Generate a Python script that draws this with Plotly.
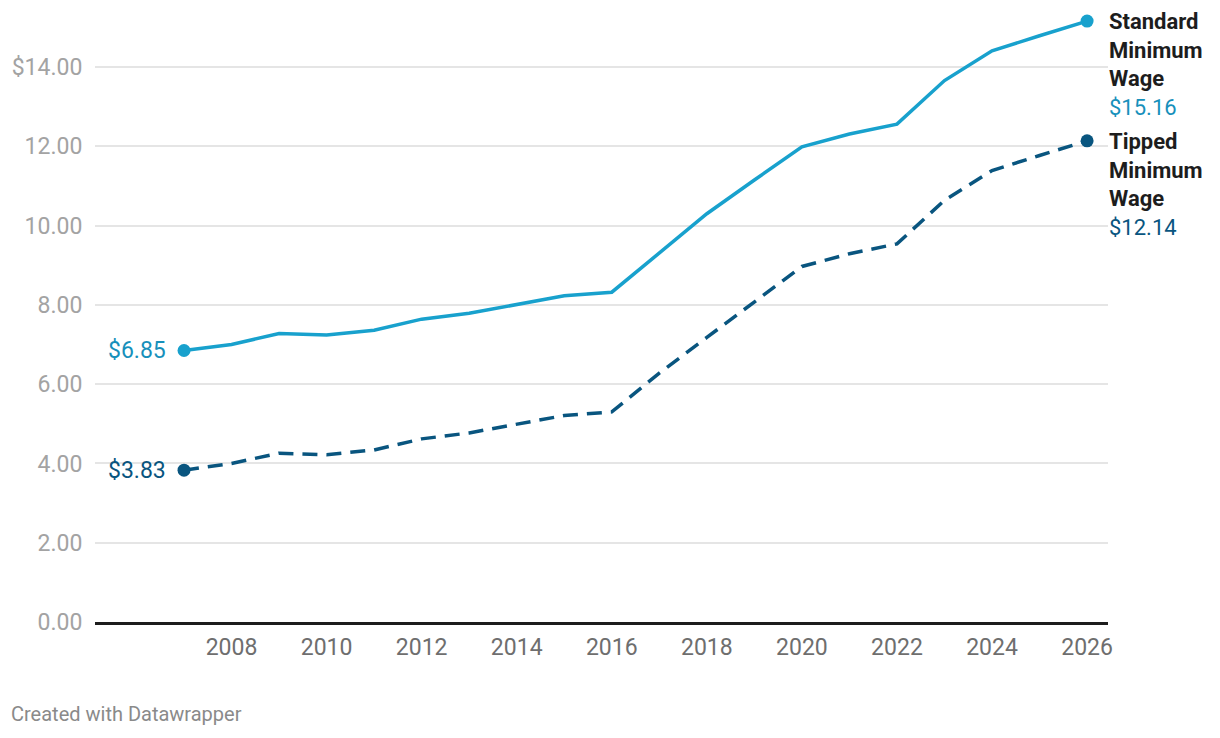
import plotly.graph_objects as go

years = list(range(2007, 2027))
standard = [6.85, 7.00, 7.28, 7.24, 7.36, 7.64, 7.79, 8.01, 8.23, 8.32,
            9.32, 10.30, 11.15, 11.99, 12.31, 12.56, 13.66, 14.41, 14.79, 15.16]
tipped = [3.83, 4.00, 4.26, 4.22, 4.34, 4.62, 4.77, 4.99, 5.21, 5.30,
          6.28, 7.18, 8.08, 8.97, 9.29, 9.54, 10.64, 11.39, 11.77, 12.14]

series_names = ["Standard<br>Minimum<br>Wage", "Tipped<br>Minimum<br>Wage"]
line_colors = ["#18a1cd", "#09557f"]
value_colors = ["#1790bb", "#09557f"]

y_tickvals = [0, 2, 4, 6, 8, 10, 12, 14]
y_ticktext = ["0.00", "2.00", "4.00", "6.00", "8.00", "10.00", "12.00", "$14.00"]
x_tickvals = list(range(2008, 2027, 2))

FONT = "Roboto"

fig = go.Figure()

for vals, col, dash in [(standard, line_colors[0], "solid"), (tipped, line_colors[1], "15px,9px")]:
    fig.add_trace(go.Scatter(
        x=years, y=vals, mode="lines",
        line=dict(color=col, width=3.5, dash=dash),
        hoverinfo="skip", cliponaxis=False,
    ))
    fig.add_trace(go.Scatter(
        x=[years[0], years[-1]], y=[vals[0], vals[-1]], mode="markers",
        marker=dict(color=col, size=13),
        hoverinfo="skip", cliponaxis=False,
    ))

annotations = []
for vals, name, vcol in [(standard, series_names[0], value_colors[0]),
                         (tipped, series_names[1], value_colors[1])]:
    bold = "<br>".join(f"<b>{p}</b>" for p in name.split("<br>"))
    annotations.append(dict(
        x=years[-1], y=vals[-1], xref="x", yref="y",
        text=f"{bold}<br><span style='color:{vcol}'>${vals[-1]:.2f}</span>",
        showarrow=False, xanchor="left", yanchor="top", align="left",
        xshift=20, yshift=14,
        font=dict(family=FONT, size=22, color="#1d1d1d"),
    ))
    annotations.append(dict(
        x=years[0], y=vals[0], xref="x", yref="y",
        text=f"${vals[0]:.2f}",
        showarrow=False, xanchor="right", yanchor="middle",
        xshift=-16,
        font=dict(family=FONT, size=23, color=vcol),
    ))

annotations.append(dict(
    x=0, y=0, xref="paper", yref="paper",
    text="Created with Datawrapper", showarrow=False,
    xanchor="left", yanchor="middle",
    font=dict(family=FONT, size=20, color="#8a8a8a"),
    xshift=-86, yshift=-92,
))

fig.update_layout(
    width=1212, height=730,
    margin=dict(l=87, r=112, t=2, b=116),
    paper_bgcolor="white", plot_bgcolor="white",
    showlegend=False,
    font=dict(family=FONT),
    annotations=annotations,
    xaxis=dict(
        range=[2005.127, 2026.44],
        tickvals=x_tickvals,
        showgrid=False, zeroline=False,
        showline=True, linecolor="#1d1d1d", linewidth=2.5,
        ticks="outside", ticklen=3, tickcolor="rgba(0,0,0,0)",
        tickfont=dict(family=FONT, size=23, color="#6e6e6e"),
    ),
    yaxis=dict(
        range=[0, 15.44],
        tickvals=y_tickvals, ticktext=y_ticktext,
        showgrid=True, gridcolor="#e5e5e5", gridwidth=1.5,
        zeroline=False, showline=False,
        ticks="outside", ticklen=7, tickcolor="rgba(0,0,0,0)",
        tickfont=dict(family=FONT, size=23, color="#a3a3a3"),
    ),
)

fig.write_html("out.html")
